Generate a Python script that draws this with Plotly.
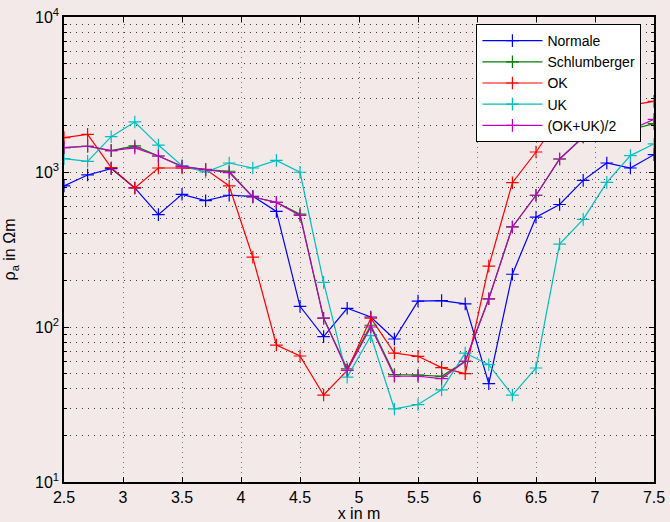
import plotly.graph_objects as go

x = [2.5, 2.7, 2.9, 3.1, 3.3, 3.5, 3.7, 3.9, 4.1, 4.3, 4.5, 4.7, 4.9,
     5.1, 5.3, 5.5, 5.7, 5.9, 6.1, 6.3, 6.5, 6.7, 6.9, 7.1, 7.3, 7.5]

normale = [813, 957, 1052, 789, 531, 718, 653, 708, 697, 557, 136, 86.7, 132,
           116, 83.7, 147, 148, 141, 43.1, 219, 511, 617, 883, 1143, 1061, 1294]
schlumberger = [1436, 1466, 1374, 1472, 1268, 1088, 1035, 1011, 690, 637, 535, 114, 53.8,
                102.6, 49.3, 49, 48.1, 60.1, 152, 442, 708, 1213, 1683, 1758, 1874, 2051]
ok = [1667, 1750, 1066, 789, 1061, 1061, 1040, 813, 282, 76.5, 65, 36.4, 52.5,
      114, 67.9, 64.7, 54.7, 50, 247, 853, 1346, 2250, 2450, 2600, 2700, 2857]
uk = [1219, 1172, 1690, 2103, 1492, 1099, 1000, 1143, 1061, 1189, 996, 194, 47.5,
      87.9, 29.6, 31.6, 39.3, 67.9, 57.1, 36.4, 54.4, 343, 495, 857, 1276, 1517]
mean_okuk = [1436, 1466, 1374, 1429, 1268, 1088, 1035, 991, 690, 637, 525, 114, 52.5,
             100, 48.1, 48.1, 46.5, 60.1, 152, 442, 708, 1213, 1683, 1758, 1874, 2188]

series = [
    ("Normale", normale, "#0000ff"),
    ("Schlumberger", schlumberger, "#008000"),
    ("OK", ok, "#ff0000"),
    ("UK", uk, "#00bfbf"),
    ("(OK+UK)/2", mean_okuk, "#bf00bf"),
]

y_major = [10, 100, 1000, 10000]
y_major_text = ["10<sup>1</sup>", "10<sup>2</sup>", "10<sup>3</sup>", "10<sup>4</sup>"]
y_minor = [m * 10 ** e for e in range(1, 4) for m in range(2, 10)]

bg = "#f3e9e8"
font = "Liberation Sans, Arial, Helvetica, sans-serif"
ygrid = "rgba(0,0,0,0.75)"

fig = go.Figure()
for name, vals, col in series:
    fig.add_trace(go.Scatter(
        x=x, y=vals, name=name, mode="lines+markers",
        line=dict(color=col, width=1.2),
        marker=dict(symbol="cross-thin", size=9, line=dict(color=col, width=1.2)),
    ))

fig.update_layout(
    width=670, height=522,
    margin=dict(l=64, r=16, t=17, b=40),
    paper_bgcolor=bg, plot_bgcolor=bg,
    font=dict(family=font, size=16, color="#000"),
    showlegend=True,
    legend=dict(
        x=0.699, y=0.985, xanchor="left", yanchor="top",
        bgcolor="#ffffff", bordercolor="#000", borderwidth=1,
        font=dict(size=14), itemwidth=60, tracegroupgap=0,
    ),
    xaxis=dict(
        range=[2.5, 7.5], dtick=0.5, tick0=2.5, automargin=False,
        showgrid=True, gridcolor="rgba(0,0,0,0.5)", griddash="1px,4px", gridwidth=1,
        showline=True, linecolor="#000", linewidth=1.5, mirror="allticks",
        ticks="inside", ticklen=5, tickcolor="#000",
        zeroline=False,
        title=dict(text="x in m", font=dict(size=16)),
        tickfont=dict(size=16),
    ),
    yaxis=dict(
        type="log", range=[1, 4], automargin=False,
        tickmode="array", tickvals=y_major, ticktext=y_major_text,
        showgrid=True, gridcolor=ygrid, griddash="1px,5px", gridwidth=1,
        showline=True, linecolor="#000", linewidth=1.5, mirror="allticks",
        ticks="inside", ticklen=5, tickcolor="#000",
        zeroline=False,
        minor=dict(tickmode="array", tickvals=y_minor, ticks="inside", ticklen=3,
                   tickcolor="#000", showgrid=True, gridcolor=ygrid,
                   griddash="1px,5px", gridwidth=1),
        title=dict(text="ρ<sub>a</sub> in Ωm", font=dict(size=16)),
        tickfont=dict(size=16),
    ),
)

fig.write_html("out.html", config={"displayModeBar": False},
               post_script="document.body.style.margin='0px';document.body.style.background='%s';" % bg)
